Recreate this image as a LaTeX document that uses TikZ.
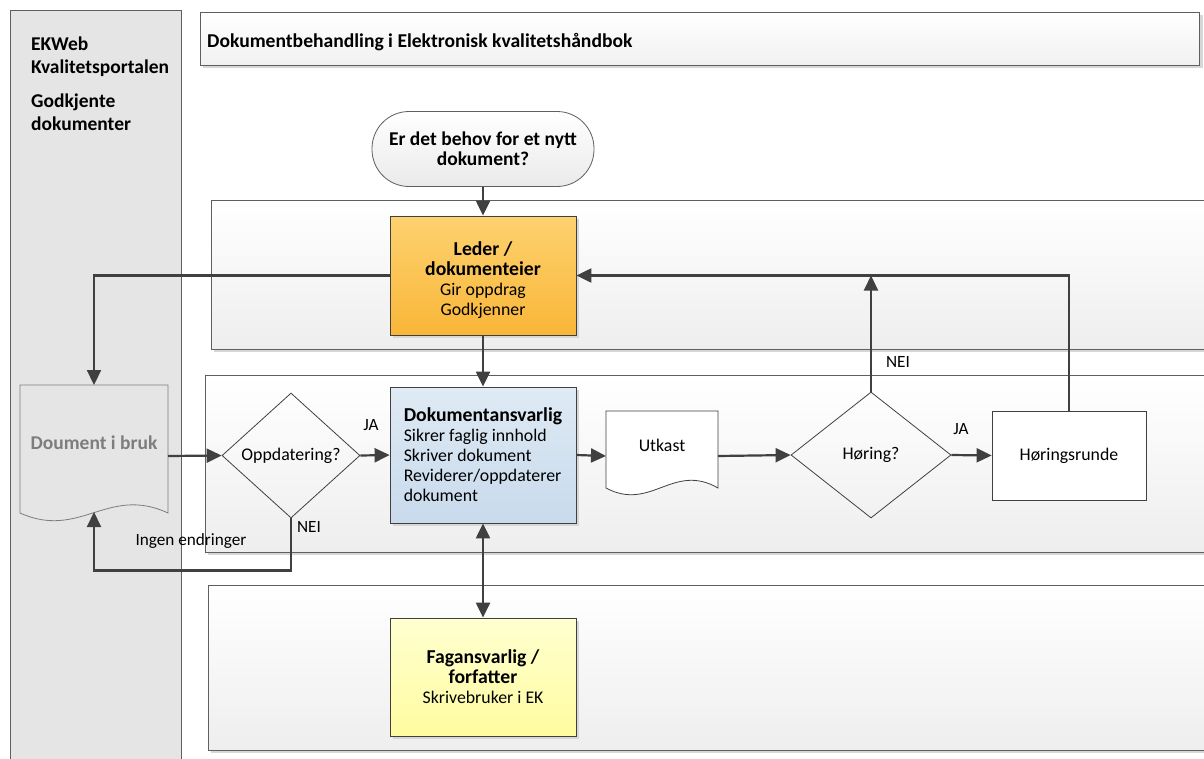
\documentclass[tikz,border=0pt]{standalone}
\usepackage{fontspec}
\setmainfont{Carlito}
\usetikzlibrary{arrows.meta,shapes.geometric,calc}
\definecolor{ln}{RGB}{64,64,64}
\definecolor{bd}{RGB}{95,95,95}
\definecolor{shd}{RGB}{215,215,215}
\definecolor{lanebot}{RGB}{238,238,238}
\definecolor{panel}{RGB}{229,229,229}
\definecolor{ledtop}{RGB}{253,210,112}
\definecolor{ledbot}{RGB}{249,182,56}
\definecolor{doktop}{RGB}{223,234,244}
\definecolor{dokbot}{RGB}{200,218,236}
\definecolor{fagtop}{RGB}{255,255,208}
\definecolor{fagbot}{RGB}{255,252,160}
\definecolor{docgray}{RGB}{125,125,125}
\newcommand\hdr{\fontsize{19.7}{20}\selectfont\bfseries}
\begin{document}
\begin{tikzpicture}[x=1pt,y=-1pt,
  font=\fontsize{17.8}{20}\selectfont,
  lane/.style={draw=bd, line width=0.8pt, top color=white, bottom color=lanebot},
  conn/.style={draw=ln, line width=2.2pt, -{Triangle[length=15pt,width=14pt]}},
  dconn/.style={draw=ln, line width=2.2pt, {Triangle[length=15pt,width=14pt]}-{Triangle[length=15pt,width=14pt]}},
  proc/.style={draw=ln, line width=0.8pt, align=center, inner sep=0pt},
  dia/.style={draw=ln, line width=0.8pt, diamond, inner sep=0pt},
  lbl/.style={font=\fontsize{17.2}{18}\selectfont, inner sep=0pt},
  bhead/.style={font=\fontsize{19.5}{22.5}\selectfont\bfseries}
]
\clip (0,0) rectangle (1204,758);
\fill[white] (0,0) rectangle (1204,758);

% left panel
\path[fill=panel, draw=bd, line width=0.8pt] (10,10) rectangle (181,780);
\node[anchor=north west, align=left, inner sep=0pt, bhead] (portal) at (31,37) {EKWeb\\Kvalitetsportalen};
\node[anchor=north west, align=left, inner sep=0pt, bhead] (godk) at (31,94) {Godkjente\\dokumenter};

% title bar
\fill[shd] (203,15) rectangle (1203,68);
\path[draw=bd, line width=1pt, top color=white, bottom color={rgb,255:red,241;green,241;blue,241}] (200,12) rectangle (1199,65);
\node[anchor=west, inner sep=0pt, font=\fontsize{19.6}{20}\selectfont\bfseries] (title) at (207,42) {Dokumentbehandling i Elektronisk kvalitetshåndbok};

% lanes
\fill[shd] (214,203) rectangle (1210,352);
\path[lane] (211,200) rectangle (1210,349);
\fill[shd] (208,378) rectangle (1210,555);
\path[lane] (205,375) rectangle (1210,552);
\fill[shd] (211,588) rectangle (1210,753);
\path[lane] (208,585) rectangle (1210,750);

% start terminal
\node[draw=bd, line width=0.8pt, rounded corners=37pt, minimum width=222pt, minimum height=75pt,
  top color=white, bottom color={rgb,255:red,234;green,234;blue,234}, align=center, inner sep=0pt,
  font=\fontsize{19.5}{20}\selectfont\bfseries] (start) at (483,149) {Er det behov for et nytt\\dokument?};

% shadows of coloured boxes
\fill[shd] (393,219) rectangle (579,338);
\fill[shd] (393,390) rectangle (579,526);
\fill[shd] (393,621) rectangle (579,739);

% leder
\node[proc, minimum width=186pt, minimum height=119pt, top color=ledtop, bottom color=ledbot] (leder) at (483,275.5)
  {\rule{0pt}{24pt}{\hdr Leder /}\\{\hdr dokumenteier}\\Gir oppdrag\\Godkjenner};

% dokumentansvarlig
\node[proc, align=left, minimum width=186pt, minimum height=136pt, top color=doktop, bottom color=dokbot] (dok) at (483,455)
  {{\hdr Dokumentansvarlig}\\Sikrer faglig innhold\\Skriver dokument\\Reviderer/oppdaterer\\dokument};

% fagansvarlig
\node[proc, minimum width=186pt, minimum height=118pt, top color=fagtop, bottom color=fagbot] (fag) at (483,677)
  {{\hdr Fagansvarlig /}\\{\hdr forfatter}\\Skrivebruker i EK};

% document "Doument i bruk"
\path[draw=docgray, line width=0.8pt, fill=panel]
  (20,385) -- (168,385) -- (168,513) .. controls (108,485) and (80,540) .. (20,513) -- cycle;
\coordinate (docN) at (94,385);
\coordinate (docS) at (94,512);
\coordinate (docE) at (168,456);
\node[inner sep=0pt, text=docgray, font=\fontsize{19.5}{20}\selectfont\bfseries] (docb) at (94,443) {Doument i bruk};

% utkast
\path[draw=ln, line width=0.8pt, fill=white]
  (606,411) -- (718,411) -- (718,488) .. controls (673,462) and (651,512) .. (606,488) -- cycle;
\coordinate (utkW) at (606,456);
\coordinate (utkE) at (718,456);
\node[inner sep=0pt] (utk) at (662,445) {Utkast};

% diamonds
\node[dia, minimum width=138pt, minimum height=125pt] (opp) at (291,455.5) {Oppdatering?};
\node[dia, minimum width=160pt, minimum height=126pt] (hor) at (871,455) {Høring?};

% høringsrunde
\node[proc, fill=white, minimum width=154pt, minimum height=89pt] (hrund) at (1069,455.5) {Høringsrunde};

% connectors
\draw[conn] (start.south) -- (leder.north);
\draw[conn] (leder.south) -- (dok.north);
\draw[conn] (leder.west) -| (docN);
\draw[conn] (docE) -- (opp.west);
\draw[conn] (opp.east) -- (dok.west);
\draw[conn] (opp.south) -- ++(0,52) -| (docS);
\draw[conn] (dok.east) -- (utkW);
\draw[conn] (utkE) -- (hor.west);
\draw[conn] (hor.north) -- (hor.north |- leder.east);
\draw[conn] (hor.east) -- (hrund.west);
\draw[conn] (hrund.north) |- (leder.east);
\draw[dconn] (dok.south) -- (fag.north);

% labels
\node[lbl] (jaA) at (371,425) {JA};
\node[lbl] (neiA) at (309,527) {NEI};
\node[lbl] (ingen) at (191,541) {Ingen endringer};
\node[lbl] (neiB) at (898,362) {NEI};
\node[lbl] (jaB) at (961,429) {JA};
\end{tikzpicture}
\end{document}
